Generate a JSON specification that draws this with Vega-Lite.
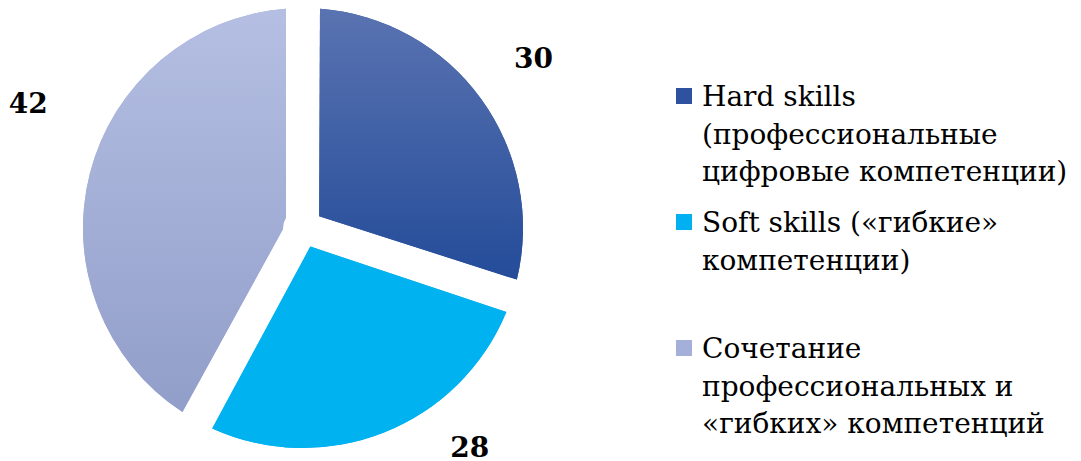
{
  "$schema": "https://vega.github.io/schema/vega-lite/v6.json",
  "width": 596,
  "height": 446,
  "padding": 5,
  "background": "white",
  "data": {
    "values": [
      {"cat": "Hard skills (профессиональные цифровые компетенции)", "value": 30},
      {"cat": "Soft skills («гибкие» компетенции)", "value": 28},
      {"cat": "Сочетание профессиональных и «гибких» компетенций", "value": 42}
    ]
  },
  "config": {
    "view": {"stroke": null},
    "style": {"guide-label": {"lineHeight": 37.5, "dy": 10}}
  },
  "layer": [
    {
      "mark": {"type": "arc", "radius": 220, "radius2": 20, "padAngle": 0.154},
      "encoding": {
        "theta": {"field": "value", "type": "quantitative", "stack": true},
        "order": {"field": "cat", "type": "nominal", "sort": "ascending"},
        "color": {
          "field": "cat",
          "type": "nominal",
          "scale": {
            "domain": [
              "Hard skills (профессиональные цифровые компетенции)",
              "Soft skills («гибкие» компетенции)",
              "Сочетание профессиональных и «гибких» компетенций"
            ],
            "range": ["#2f52a0", "#00b0f0", "#a5b0da"]
          },
          "legend": {
            "title": null,
            "orient": "none",
            "legendX": 665,
            "legendY": 77,
            "symbolType": "square",
            "symbolSize": 256,
            "symbolStrokeWidth": 0,
            "labelFont": "DejaVu Serif",
            "labelFontSize": 28,
            "labelColor": "#000000",
            "labelLimit": 600,
            "labelOffset": 4,
            "labelBaseline": "alphabetic",
            "rowPadding": 21,
            "labelExpr": "datum.label === 'Hard skills (профессиональные цифровые компетенции)' ? ['Hard skills','(профессиональные','цифровые компетенции)'] : datum.label === 'Soft skills («гибкие» компетенции)' ? ['Soft skills («гибкие»','компетенции)',''] : ['Сочетание','профессиональных и','«гибких» компетенций']"
          }
        }
      }
    },
    {
      "mark": {"type": "arc", "radius": 220, "radius2": 20, "padAngle": 0.154},
      "encoding": {
        "theta": {"field": "value", "type": "quantitative", "stack": true},
        "order": {"field": "cat", "type": "nominal", "sort": "ascending"},
        "detail": {"field": "cat", "type": "nominal"},
        "fill": {
          "condition": [
            {
              "test": "datum.cat === 'Hard skills (профессиональные цифровые компетенции)'",
              "value": {"gradient": "linear", "x1": 0, "y1": 0, "x2": 0, "y2": 1,
                "stops": [{"offset": 0, "color": "#5a73b1"}, {"offset": 1, "color": "#244c99"}]}
            },
            {
              "test": "datum.cat === 'Soft skills («гибкие» компетенции)'",
              "value": "#00b2f0"
            }
          ],
          "value": {"gradient": "linear", "x1": 0, "y1": 0, "x2": 0, "y2": 1,
            "stops": [{"offset": 0, "color": "#b5bfe3"}, {"offset": 1, "color": "#919ec9"}]}
        }
      }
    },
    {
      "mark": {"type": "text", "radius": 285, "font": "DejaVu Serif", "fontWeight": "bold", "color": "#000000"},
      "encoding": {
        "theta": {"field": "value", "type": "quantitative", "stack": true},
        "order": {"field": "cat", "type": "nominal", "sort": "ascending"},
        "detail": {"field": "cat", "type": "nominal"},
        "size": {"condition": {"test": "datum.cat === 'Hard skills (профессиональные цифровые компетенции)'", "value": 28}, "value": 0},
        "text": {"condition": {"test": "datum.cat === 'Hard skills (профессиональные цифровые компетенции)'", "field": "value", "type": "quantitative"}, "value": ""}
      }
    },
    {
      "mark": {"type": "text", "radius": 277, "thetaOffset": -0.269, "font": "DejaVu Serif", "fontWeight": "bold", "color": "#000000"},
      "encoding": {
        "theta": {"field": "value", "type": "quantitative", "stack": true},
        "order": {"field": "cat", "type": "nominal", "sort": "ascending"},
        "detail": {"field": "cat", "type": "nominal"},
        "size": {"condition": {"test": "datum.cat === 'Soft skills («гибкие» компетенции)'", "value": 28}, "value": 0},
        "text": {"condition": {"test": "datum.cat === 'Soft skills («гибкие» компетенции)'", "field": "value", "type": "quantitative"}, "value": ""}
      }
    },
    {
      "mark": {"type": "text", "radius": 301, "thetaOffset": 0.169, "font": "DejaVu Serif", "fontWeight": "bold", "color": "#000000"},
      "encoding": {
        "theta": {"field": "value", "type": "quantitative", "stack": true},
        "order": {"field": "cat", "type": "nominal", "sort": "ascending"},
        "detail": {"field": "cat", "type": "nominal"},
        "size": {"condition": {"test": "datum.cat === 'Сочетание профессиональных и «гибких» компетенций'", "value": 28}, "value": 0},
        "text": {"condition": {"test": "datum.cat === 'Сочетание профессиональных и «гибких» компетенций'", "field": "value", "type": "quantitative"}, "value": ""}
      }
    }
  ]
}
